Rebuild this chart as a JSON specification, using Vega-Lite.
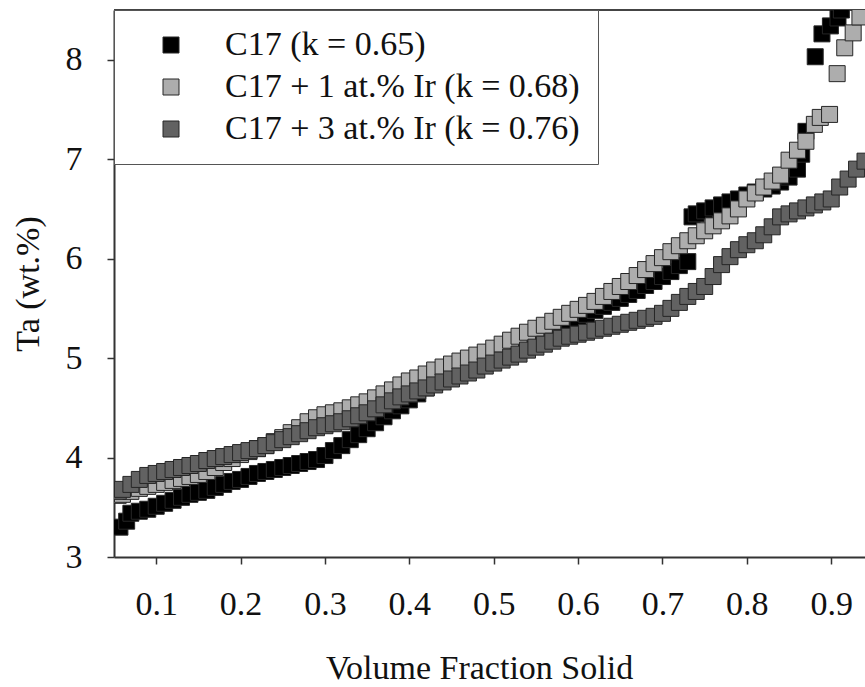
{
  "$schema": "https://vega.github.io/schema/vega-lite/v6.json",
  "width": 751,
  "height": 547,
  "autosize": "none",
  "padding": {"left": 114, "top": 10, "right": 0, "bottom": 130},
  "background": "white",
  "config": {
    "view": {"stroke": null},
    "font": "Liberation Serif",
    "axis": {
      "grid": false,
      "labelFont": "Liberation Serif",
      "titleFont": "Liberation Serif",
      "labelFontSize": 34,
      "titleFontSize": 34,
      "titleFontWeight": "normal",
      "labelColor": "#111",
      "titleColor": "#111",
      "domainColor": "#333",
      "domainWidth": 2,
      "tickColor": "#333",
      "tickWidth": 1.5,
      "tickSize": 7
    }
  },
  "layer": [
    {
      "data": {"values": [{}]},
      "mark": {"type": "rule", "color": "#444", "strokeWidth": 2},
      "encoding": {
        "y": {"datum": 8.5, "type": "quantitative", "scale": {"domain": [3, 8.5], "nice": false, "zero": false}}
      }
    },
    {
      "data": {"values": [
        {"series": "C17 (k = 0.65)", "x": 0.057, "y": 3.30},
        {"series": "C17 (k = 0.65)", "x": 0.065, "y": 3.36},
        {"series": "C17 (k = 0.65)", "x": 0.07, "y": 3.44},
        {"series": "C17 (k = 0.65)", "x": 0.08, "y": 3.46},
        {"series": "C17 (k = 0.65)", "x": 0.09, "y": 3.48},
        {"series": "C17 (k = 0.65)", "x": 0.10, "y": 3.51},
        {"series": "C17 (k = 0.65)", "x": 0.11, "y": 3.54},
        {"series": "C17 (k = 0.65)", "x": 0.12, "y": 3.57},
        {"series": "C17 (k = 0.65)", "x": 0.13, "y": 3.60},
        {"series": "C17 (k = 0.65)", "x": 0.14, "y": 3.63},
        {"series": "C17 (k = 0.65)", "x": 0.15, "y": 3.65},
        {"series": "C17 (k = 0.65)", "x": 0.16, "y": 3.67},
        {"series": "C17 (k = 0.65)", "x": 0.17, "y": 3.70},
        {"series": "C17 (k = 0.65)", "x": 0.18, "y": 3.73},
        {"series": "C17 (k = 0.65)", "x": 0.19, "y": 3.76},
        {"series": "C17 (k = 0.65)", "x": 0.20, "y": 3.78},
        {"series": "C17 (k = 0.65)", "x": 0.21, "y": 3.81},
        {"series": "C17 (k = 0.65)", "x": 0.22, "y": 3.84},
        {"series": "C17 (k = 0.65)", "x": 0.23, "y": 3.86},
        {"series": "C17 (k = 0.65)", "x": 0.24, "y": 3.88},
        {"series": "C17 (k = 0.65)", "x": 0.25, "y": 3.90},
        {"series": "C17 (k = 0.65)", "x": 0.26, "y": 3.92},
        {"series": "C17 (k = 0.65)", "x": 0.27, "y": 3.94},
        {"series": "C17 (k = 0.65)", "x": 0.28, "y": 3.96},
        {"series": "C17 (k = 0.65)", "x": 0.29, "y": 3.98},
        {"series": "C17 (k = 0.65)", "x": 0.30, "y": 4.02},
        {"series": "C17 (k = 0.65)", "x": 0.31, "y": 4.07},
        {"series": "C17 (k = 0.65)", "x": 0.32, "y": 4.12},
        {"series": "C17 (k = 0.65)", "x": 0.33, "y": 4.18},
        {"series": "C17 (k = 0.65)", "x": 0.34, "y": 4.23},
        {"series": "C17 (k = 0.65)", "x": 0.35, "y": 4.29},
        {"series": "C17 (k = 0.65)", "x": 0.36, "y": 4.35},
        {"series": "C17 (k = 0.65)", "x": 0.37, "y": 4.41},
        {"series": "C17 (k = 0.65)", "x": 0.38, "y": 4.47},
        {"series": "C17 (k = 0.65)", "x": 0.39, "y": 4.52},
        {"series": "C17 (k = 0.65)", "x": 0.40, "y": 4.58},
        {"series": "C17 (k = 0.65)", "x": 0.41, "y": 4.64},
        {"series": "C17 (k = 0.65)", "x": 0.42, "y": 4.70},
        {"series": "C17 (k = 0.65)", "x": 0.43, "y": 4.75},
        {"series": "C17 (k = 0.65)", "x": 0.44, "y": 4.80},
        {"series": "C17 (k = 0.65)", "x": 0.45, "y": 4.84},
        {"series": "C17 (k = 0.65)", "x": 0.46, "y": 4.88},
        {"series": "C17 (k = 0.65)", "x": 0.47, "y": 4.91},
        {"series": "C17 (k = 0.65)", "x": 0.48, "y": 4.94},
        {"series": "C17 (k = 0.65)", "x": 0.49, "y": 4.98},
        {"series": "C17 (k = 0.65)", "x": 0.50, "y": 5.02},
        {"series": "C17 (k = 0.65)", "x": 0.51, "y": 5.05},
        {"series": "C17 (k = 0.65)", "x": 0.52, "y": 5.09},
        {"series": "C17 (k = 0.65)", "x": 0.53, "y": 5.12},
        {"series": "C17 (k = 0.65)", "x": 0.54, "y": 5.16},
        {"series": "C17 (k = 0.65)", "x": 0.55, "y": 5.20},
        {"series": "C17 (k = 0.65)", "x": 0.56, "y": 5.24},
        {"series": "C17 (k = 0.65)", "x": 0.57, "y": 5.28},
        {"series": "C17 (k = 0.65)", "x": 0.58, "y": 5.32},
        {"series": "C17 (k = 0.65)", "x": 0.59, "y": 5.36},
        {"series": "C17 (k = 0.65)", "x": 0.60, "y": 5.40},
        {"series": "C17 (k = 0.65)", "x": 0.61, "y": 5.44},
        {"series": "C17 (k = 0.65)", "x": 0.62, "y": 5.48},
        {"series": "C17 (k = 0.65)", "x": 0.63, "y": 5.52},
        {"series": "C17 (k = 0.65)", "x": 0.64, "y": 5.56},
        {"series": "C17 (k = 0.65)", "x": 0.65, "y": 5.60},
        {"series": "C17 (k = 0.65)", "x": 0.66, "y": 5.64},
        {"series": "C17 (k = 0.65)", "x": 0.67, "y": 5.68},
        {"series": "C17 (k = 0.65)", "x": 0.68, "y": 5.73},
        {"series": "C17 (k = 0.65)", "x": 0.69, "y": 5.77},
        {"series": "C17 (k = 0.65)", "x": 0.70, "y": 5.82},
        {"series": "C17 (k = 0.65)", "x": 0.71, "y": 5.87},
        {"series": "C17 (k = 0.65)", "x": 0.72, "y": 5.93},
        {"series": "C17 (k = 0.65)", "x": 0.73, "y": 5.97},
        {"series": "C17 (k = 0.65)", "x": 0.735, "y": 6.42},
        {"series": "C17 (k = 0.65)", "x": 0.74, "y": 6.45},
        {"series": "C17 (k = 0.65)", "x": 0.75, "y": 6.48},
        {"series": "C17 (k = 0.65)", "x": 0.76, "y": 6.51},
        {"series": "C17 (k = 0.65)", "x": 0.77, "y": 6.54},
        {"series": "C17 (k = 0.65)", "x": 0.78, "y": 6.57},
        {"series": "C17 (k = 0.65)", "x": 0.79, "y": 6.60},
        {"series": "C17 (k = 0.65)", "x": 0.80, "y": 6.64},
        {"series": "C17 (k = 0.65)", "x": 0.81, "y": 6.67},
        {"series": "C17 (k = 0.65)", "x": 0.82, "y": 6.70},
        {"series": "C17 (k = 0.65)", "x": 0.83, "y": 6.73},
        {"series": "C17 (k = 0.65)", "x": 0.84, "y": 6.77},
        {"series": "C17 (k = 0.65)", "x": 0.85, "y": 6.82},
        {"series": "C17 (k = 0.65)", "x": 0.86, "y": 6.90},
        {"series": "C17 (k = 0.65)", "x": 0.865, "y": 7.05},
        {"series": "C17 (k = 0.65)", "x": 0.87, "y": 7.28},
        {"series": "C17 (k = 0.65)", "x": 0.881, "y": 8.03},
        {"series": "C17 (k = 0.65)", "x": 0.889, "y": 8.26},
        {"series": "C17 (k = 0.65)", "x": 0.899, "y": 8.34},
        {"series": "C17 (k = 0.65)", "x": 0.908, "y": 8.42},
        {"series": "C17 (k = 0.65)", "x": 0.912, "y": 8.50},

        {"series": "C17 + 1 at.% Ir (k = 0.68)", "x": 0.055, "y": 3.62},
        {"series": "C17 + 1 at.% Ir (k = 0.68)", "x": 0.06, "y": 3.63},
        {"series": "C17 + 1 at.% Ir (k = 0.68)", "x": 0.07, "y": 3.66},
        {"series": "C17 + 1 at.% Ir (k = 0.68)", "x": 0.08, "y": 3.69},
        {"series": "C17 + 1 at.% Ir (k = 0.68)", "x": 0.09, "y": 3.71},
        {"series": "C17 + 1 at.% Ir (k = 0.68)", "x": 0.10, "y": 3.73},
        {"series": "C17 + 1 at.% Ir (k = 0.68)", "x": 0.11, "y": 3.75},
        {"series": "C17 + 1 at.% Ir (k = 0.68)", "x": 0.12, "y": 3.77},
        {"series": "C17 + 1 at.% Ir (k = 0.68)", "x": 0.13, "y": 3.79},
        {"series": "C17 + 1 at.% Ir (k = 0.68)", "x": 0.14, "y": 3.81},
        {"series": "C17 + 1 at.% Ir (k = 0.68)", "x": 0.15, "y": 3.83},
        {"series": "C17 + 1 at.% Ir (k = 0.68)", "x": 0.16, "y": 3.86},
        {"series": "C17 + 1 at.% Ir (k = 0.68)", "x": 0.17, "y": 3.90},
        {"series": "C17 + 1 at.% Ir (k = 0.68)", "x": 0.18, "y": 3.95},
        {"series": "C17 + 1 at.% Ir (k = 0.68)", "x": 0.19, "y": 3.99},
        {"series": "C17 + 1 at.% Ir (k = 0.68)", "x": 0.20, "y": 4.03},
        {"series": "C17 + 1 at.% Ir (k = 0.68)", "x": 0.21, "y": 4.06},
        {"series": "C17 + 1 at.% Ir (k = 0.68)", "x": 0.22, "y": 4.09},
        {"series": "C17 + 1 at.% Ir (k = 0.68)", "x": 0.23, "y": 4.12},
        {"series": "C17 + 1 at.% Ir (k = 0.68)", "x": 0.24, "y": 4.16},
        {"series": "C17 + 1 at.% Ir (k = 0.68)", "x": 0.25, "y": 4.20},
        {"series": "C17 + 1 at.% Ir (k = 0.68)", "x": 0.26, "y": 4.25},
        {"series": "C17 + 1 at.% Ir (k = 0.68)", "x": 0.27, "y": 4.30},
        {"series": "C17 + 1 at.% Ir (k = 0.68)", "x": 0.28, "y": 4.36},
        {"series": "C17 + 1 at.% Ir (k = 0.68)", "x": 0.29, "y": 4.40},
        {"series": "C17 + 1 at.% Ir (k = 0.68)", "x": 0.30, "y": 4.43},
        {"series": "C17 + 1 at.% Ir (k = 0.68)", "x": 0.31, "y": 4.45},
        {"series": "C17 + 1 at.% Ir (k = 0.68)", "x": 0.32, "y": 4.47},
        {"series": "C17 + 1 at.% Ir (k = 0.68)", "x": 0.33, "y": 4.50},
        {"series": "C17 + 1 at.% Ir (k = 0.68)", "x": 0.34, "y": 4.53},
        {"series": "C17 + 1 at.% Ir (k = 0.68)", "x": 0.35, "y": 4.56},
        {"series": "C17 + 1 at.% Ir (k = 0.68)", "x": 0.36, "y": 4.60},
        {"series": "C17 + 1 at.% Ir (k = 0.68)", "x": 0.37, "y": 4.64},
        {"series": "C17 + 1 at.% Ir (k = 0.68)", "x": 0.38, "y": 4.68},
        {"series": "C17 + 1 at.% Ir (k = 0.68)", "x": 0.39, "y": 4.73},
        {"series": "C17 + 1 at.% Ir (k = 0.68)", "x": 0.40, "y": 4.77},
        {"series": "C17 + 1 at.% Ir (k = 0.68)", "x": 0.41, "y": 4.80},
        {"series": "C17 + 1 at.% Ir (k = 0.68)", "x": 0.42, "y": 4.84},
        {"series": "C17 + 1 at.% Ir (k = 0.68)", "x": 0.43, "y": 4.88},
        {"series": "C17 + 1 at.% Ir (k = 0.68)", "x": 0.44, "y": 4.91},
        {"series": "C17 + 1 at.% Ir (k = 0.68)", "x": 0.45, "y": 4.94},
        {"series": "C17 + 1 at.% Ir (k = 0.68)", "x": 0.46, "y": 4.97},
        {"series": "C17 + 1 at.% Ir (k = 0.68)", "x": 0.47, "y": 5.00},
        {"series": "C17 + 1 at.% Ir (k = 0.68)", "x": 0.48, "y": 5.03},
        {"series": "C17 + 1 at.% Ir (k = 0.68)", "x": 0.49, "y": 5.06},
        {"series": "C17 + 1 at.% Ir (k = 0.68)", "x": 0.50, "y": 5.10},
        {"series": "C17 + 1 at.% Ir (k = 0.68)", "x": 0.51, "y": 5.14},
        {"series": "C17 + 1 at.% Ir (k = 0.68)", "x": 0.52, "y": 5.18},
        {"series": "C17 + 1 at.% Ir (k = 0.68)", "x": 0.53, "y": 5.22},
        {"series": "C17 + 1 at.% Ir (k = 0.68)", "x": 0.54, "y": 5.26},
        {"series": "C17 + 1 at.% Ir (k = 0.68)", "x": 0.55, "y": 5.30},
        {"series": "C17 + 1 at.% Ir (k = 0.68)", "x": 0.56, "y": 5.33},
        {"series": "C17 + 1 at.% Ir (k = 0.68)", "x": 0.57, "y": 5.37},
        {"series": "C17 + 1 at.% Ir (k = 0.68)", "x": 0.58, "y": 5.41},
        {"series": "C17 + 1 at.% Ir (k = 0.68)", "x": 0.59, "y": 5.45},
        {"series": "C17 + 1 at.% Ir (k = 0.68)", "x": 0.60, "y": 5.49},
        {"series": "C17 + 1 at.% Ir (k = 0.68)", "x": 0.61, "y": 5.53},
        {"series": "C17 + 1 at.% Ir (k = 0.68)", "x": 0.62, "y": 5.57},
        {"series": "C17 + 1 at.% Ir (k = 0.68)", "x": 0.63, "y": 5.62},
        {"series": "C17 + 1 at.% Ir (k = 0.68)", "x": 0.64, "y": 5.67},
        {"series": "C17 + 1 at.% Ir (k = 0.68)", "x": 0.65, "y": 5.72},
        {"series": "C17 + 1 at.% Ir (k = 0.68)", "x": 0.66, "y": 5.77},
        {"series": "C17 + 1 at.% Ir (k = 0.68)", "x": 0.67, "y": 5.83},
        {"series": "C17 + 1 at.% Ir (k = 0.68)", "x": 0.68, "y": 5.89},
        {"series": "C17 + 1 at.% Ir (k = 0.68)", "x": 0.69, "y": 5.95},
        {"series": "C17 + 1 at.% Ir (k = 0.68)", "x": 0.70, "y": 6.01},
        {"series": "C17 + 1 at.% Ir (k = 0.68)", "x": 0.71, "y": 6.07},
        {"series": "C17 + 1 at.% Ir (k = 0.68)", "x": 0.72, "y": 6.13},
        {"series": "C17 + 1 at.% Ir (k = 0.68)", "x": 0.73, "y": 6.18},
        {"series": "C17 + 1 at.% Ir (k = 0.68)", "x": 0.74, "y": 6.23},
        {"series": "C17 + 1 at.% Ir (k = 0.68)", "x": 0.75, "y": 6.28},
        {"series": "C17 + 1 at.% Ir (k = 0.68)", "x": 0.76, "y": 6.33},
        {"series": "C17 + 1 at.% Ir (k = 0.68)", "x": 0.77, "y": 6.38},
        {"series": "C17 + 1 at.% Ir (k = 0.68)", "x": 0.78, "y": 6.43},
        {"series": "C17 + 1 at.% Ir (k = 0.68)", "x": 0.79, "y": 6.50},
        {"series": "C17 + 1 at.% Ir (k = 0.68)", "x": 0.80, "y": 6.60},
        {"series": "C17 + 1 at.% Ir (k = 0.68)", "x": 0.81, "y": 6.66},
        {"series": "C17 + 1 at.% Ir (k = 0.68)", "x": 0.82, "y": 6.72},
        {"series": "C17 + 1 at.% Ir (k = 0.68)", "x": 0.83, "y": 6.78},
        {"series": "C17 + 1 at.% Ir (k = 0.68)", "x": 0.84, "y": 6.84},
        {"series": "C17 + 1 at.% Ir (k = 0.68)", "x": 0.85, "y": 6.99},
        {"series": "C17 + 1 at.% Ir (k = 0.68)", "x": 0.86, "y": 7.09},
        {"series": "C17 + 1 at.% Ir (k = 0.68)", "x": 0.87, "y": 7.18},
        {"series": "C17 + 1 at.% Ir (k = 0.68)", "x": 0.88, "y": 7.35},
        {"series": "C17 + 1 at.% Ir (k = 0.68)", "x": 0.887, "y": 7.42},
        {"series": "C17 + 1 at.% Ir (k = 0.68)", "x": 0.898, "y": 7.45},
        {"series": "C17 + 1 at.% Ir (k = 0.68)", "x": 0.907, "y": 7.86},
        {"series": "C17 + 1 at.% Ir (k = 0.68)", "x": 0.916, "y": 8.12},
        {"series": "C17 + 1 at.% Ir (k = 0.68)", "x": 0.926, "y": 8.27},
        {"series": "C17 + 1 at.% Ir (k = 0.68)", "x": 0.934, "y": 8.43},

        {"series": "C17 + 3 at.% Ir (k = 0.76)", "x": 0.055, "y": 3.66},
        {"series": "C17 + 3 at.% Ir (k = 0.76)", "x": 0.06, "y": 3.68},
        {"series": "C17 + 3 at.% Ir (k = 0.76)", "x": 0.07, "y": 3.73},
        {"series": "C17 + 3 at.% Ir (k = 0.76)", "x": 0.08, "y": 3.78},
        {"series": "C17 + 3 at.% Ir (k = 0.76)", "x": 0.09, "y": 3.82},
        {"series": "C17 + 3 at.% Ir (k = 0.76)", "x": 0.10, "y": 3.84},
        {"series": "C17 + 3 at.% Ir (k = 0.76)", "x": 0.11, "y": 3.86},
        {"series": "C17 + 3 at.% Ir (k = 0.76)", "x": 0.12, "y": 3.88},
        {"series": "C17 + 3 at.% Ir (k = 0.76)", "x": 0.13, "y": 3.90},
        {"series": "C17 + 3 at.% Ir (k = 0.76)", "x": 0.14, "y": 3.92},
        {"series": "C17 + 3 at.% Ir (k = 0.76)", "x": 0.15, "y": 3.94},
        {"series": "C17 + 3 at.% Ir (k = 0.76)", "x": 0.16, "y": 3.97},
        {"series": "C17 + 3 at.% Ir (k = 0.76)", "x": 0.17, "y": 3.99},
        {"series": "C17 + 3 at.% Ir (k = 0.76)", "x": 0.18, "y": 4.01},
        {"series": "C17 + 3 at.% Ir (k = 0.76)", "x": 0.19, "y": 4.03},
        {"series": "C17 + 3 at.% Ir (k = 0.76)", "x": 0.20, "y": 4.05},
        {"series": "C17 + 3 at.% Ir (k = 0.76)", "x": 0.21, "y": 4.07},
        {"series": "C17 + 3 at.% Ir (k = 0.76)", "x": 0.22, "y": 4.09},
        {"series": "C17 + 3 at.% Ir (k = 0.76)", "x": 0.23, "y": 4.12},
        {"series": "C17 + 3 at.% Ir (k = 0.76)", "x": 0.24, "y": 4.15},
        {"series": "C17 + 3 at.% Ir (k = 0.76)", "x": 0.25, "y": 4.18},
        {"series": "C17 + 3 at.% Ir (k = 0.76)", "x": 0.26, "y": 4.21},
        {"series": "C17 + 3 at.% Ir (k = 0.76)", "x": 0.27, "y": 4.24},
        {"series": "C17 + 3 at.% Ir (k = 0.76)", "x": 0.28, "y": 4.27},
        {"series": "C17 + 3 at.% Ir (k = 0.76)", "x": 0.29, "y": 4.30},
        {"series": "C17 + 3 at.% Ir (k = 0.76)", "x": 0.30, "y": 4.32},
        {"series": "C17 + 3 at.% Ir (k = 0.76)", "x": 0.31, "y": 4.34},
        {"series": "C17 + 3 at.% Ir (k = 0.76)", "x": 0.32, "y": 4.36},
        {"series": "C17 + 3 at.% Ir (k = 0.76)", "x": 0.33, "y": 4.39},
        {"series": "C17 + 3 at.% Ir (k = 0.76)", "x": 0.34, "y": 4.42},
        {"series": "C17 + 3 at.% Ir (k = 0.76)", "x": 0.35, "y": 4.45},
        {"series": "C17 + 3 at.% Ir (k = 0.76)", "x": 0.36, "y": 4.49},
        {"series": "C17 + 3 at.% Ir (k = 0.76)", "x": 0.37, "y": 4.53},
        {"series": "C17 + 3 at.% Ir (k = 0.76)", "x": 0.38, "y": 4.57},
        {"series": "C17 + 3 at.% Ir (k = 0.76)", "x": 0.39, "y": 4.61},
        {"series": "C17 + 3 at.% Ir (k = 0.76)", "x": 0.40, "y": 4.64},
        {"series": "C17 + 3 at.% Ir (k = 0.76)", "x": 0.41, "y": 4.67},
        {"series": "C17 + 3 at.% Ir (k = 0.76)", "x": 0.42, "y": 4.70},
        {"series": "C17 + 3 at.% Ir (k = 0.76)", "x": 0.43, "y": 4.73},
        {"series": "C17 + 3 at.% Ir (k = 0.76)", "x": 0.44, "y": 4.76},
        {"series": "C17 + 3 at.% Ir (k = 0.76)", "x": 0.45, "y": 4.79},
        {"series": "C17 + 3 at.% Ir (k = 0.76)", "x": 0.46, "y": 4.82},
        {"series": "C17 + 3 at.% Ir (k = 0.76)", "x": 0.47, "y": 4.85},
        {"series": "C17 + 3 at.% Ir (k = 0.76)", "x": 0.48, "y": 4.88},
        {"series": "C17 + 3 at.% Ir (k = 0.76)", "x": 0.49, "y": 4.92},
        {"series": "C17 + 3 at.% Ir (k = 0.76)", "x": 0.50, "y": 4.95},
        {"series": "C17 + 3 at.% Ir (k = 0.76)", "x": 0.51, "y": 4.98},
        {"series": "C17 + 3 at.% Ir (k = 0.76)", "x": 0.52, "y": 5.01},
        {"series": "C17 + 3 at.% Ir (k = 0.76)", "x": 0.53, "y": 5.04},
        {"series": "C17 + 3 at.% Ir (k = 0.76)", "x": 0.54, "y": 5.08},
        {"series": "C17 + 3 at.% Ir (k = 0.76)", "x": 0.55, "y": 5.11},
        {"series": "C17 + 3 at.% Ir (k = 0.76)", "x": 0.56, "y": 5.14},
        {"series": "C17 + 3 at.% Ir (k = 0.76)", "x": 0.57, "y": 5.17},
        {"series": "C17 + 3 at.% Ir (k = 0.76)", "x": 0.58, "y": 5.20},
        {"series": "C17 + 3 at.% Ir (k = 0.76)", "x": 0.59, "y": 5.22},
        {"series": "C17 + 3 at.% Ir (k = 0.76)", "x": 0.60, "y": 5.24},
        {"series": "C17 + 3 at.% Ir (k = 0.76)", "x": 0.61, "y": 5.26},
        {"series": "C17 + 3 at.% Ir (k = 0.76)", "x": 0.62, "y": 5.28},
        {"series": "C17 + 3 at.% Ir (k = 0.76)", "x": 0.63, "y": 5.30},
        {"series": "C17 + 3 at.% Ir (k = 0.76)", "x": 0.64, "y": 5.32},
        {"series": "C17 + 3 at.% Ir (k = 0.76)", "x": 0.65, "y": 5.34},
        {"series": "C17 + 3 at.% Ir (k = 0.76)", "x": 0.66, "y": 5.36},
        {"series": "C17 + 3 at.% Ir (k = 0.76)", "x": 0.67, "y": 5.38},
        {"series": "C17 + 3 at.% Ir (k = 0.76)", "x": 0.68, "y": 5.40},
        {"series": "C17 + 3 at.% Ir (k = 0.76)", "x": 0.69, "y": 5.42},
        {"series": "C17 + 3 at.% Ir (k = 0.76)", "x": 0.70, "y": 5.45},
        {"series": "C17 + 3 at.% Ir (k = 0.76)", "x": 0.71, "y": 5.50},
        {"series": "C17 + 3 at.% Ir (k = 0.76)", "x": 0.72, "y": 5.56},
        {"series": "C17 + 3 at.% Ir (k = 0.76)", "x": 0.73, "y": 5.62},
        {"series": "C17 + 3 at.% Ir (k = 0.76)", "x": 0.74, "y": 5.67},
        {"series": "C17 + 3 at.% Ir (k = 0.76)", "x": 0.75, "y": 5.72},
        {"series": "C17 + 3 at.% Ir (k = 0.76)", "x": 0.76, "y": 5.82},
        {"series": "C17 + 3 at.% Ir (k = 0.76)", "x": 0.77, "y": 5.94},
        {"series": "C17 + 3 at.% Ir (k = 0.76)", "x": 0.78, "y": 6.02},
        {"series": "C17 + 3 at.% Ir (k = 0.76)", "x": 0.79, "y": 6.09},
        {"series": "C17 + 3 at.% Ir (k = 0.76)", "x": 0.80, "y": 6.14},
        {"series": "C17 + 3 at.% Ir (k = 0.76)", "x": 0.81, "y": 6.18},
        {"series": "C17 + 3 at.% Ir (k = 0.76)", "x": 0.82, "y": 6.24},
        {"series": "C17 + 3 at.% Ir (k = 0.76)", "x": 0.83, "y": 6.32},
        {"series": "C17 + 3 at.% Ir (k = 0.76)", "x": 0.84, "y": 6.42},
        {"series": "C17 + 3 at.% Ir (k = 0.76)", "x": 0.85, "y": 6.45},
        {"series": "C17 + 3 at.% Ir (k = 0.76)", "x": 0.86, "y": 6.48},
        {"series": "C17 + 3 at.% Ir (k = 0.76)", "x": 0.87, "y": 6.51},
        {"series": "C17 + 3 at.% Ir (k = 0.76)", "x": 0.88, "y": 6.54},
        {"series": "C17 + 3 at.% Ir (k = 0.76)", "x": 0.89, "y": 6.57},
        {"series": "C17 + 3 at.% Ir (k = 0.76)", "x": 0.90, "y": 6.60},
        {"series": "C17 + 3 at.% Ir (k = 0.76)", "x": 0.91, "y": 6.72},
        {"series": "C17 + 3 at.% Ir (k = 0.76)", "x": 0.92, "y": 6.80},
        {"series": "C17 + 3 at.% Ir (k = 0.76)", "x": 0.93, "y": 6.90},
        {"series": "C17 + 3 at.% Ir (k = 0.76)", "x": 0.94, "y": 6.98}
      ]},
      "mark": {"type": "square", "filled": true, "size": 256, "stroke": "#262626", "strokeWidth": 1, "opacity": 1, "clip": true},
      "encoding": {
        "x": {
          "field": "x", "type": "quantitative",
          "scale": {"domain": [0.05, 0.94], "nice": false, "zero": false},
          "axis": {"title": "Volume Fraction Solid", "values": [0.1, 0.2, 0.3, 0.4, 0.5, 0.6, 0.7, 0.8, 0.9], "format": ".1f", "labelPadding": 23, "titlePadding": 30, "titleX": 365}
        },
        "y": {
          "field": "y", "type": "quantitative",
          "scale": {"domain": [3, 8.5], "nice": false, "zero": false},
          "axis": {"title": "Ta (wt.%)", "values": [3, 4, 5, 6, 7, 8], "format": "d", "labelPadding": 25, "titlePadding": 20}
        },
        "color": {
          "field": "series", "type": "nominal",
          "scale": {
            "domain": ["C17 (k = 0.65)", "C17 + 1 at.% Ir (k = 0.68)", "C17 + 3 at.% Ir (k = 0.76)"],
            "range": ["#000000", "#adadad", "#626262"]
          },
          "legend": {
            "orient": "none", "legendX": 0, "legendY": 0,
            "title": null,
            "padding": 18,
            "strokeColor": "#555",
            "fillColor": "white",
            "symbolType": "square",
            "symbolSize": 256,
            "symbolStrokeColor": "#262626",
            "symbolStrokeWidth": 1,
            "symbolOffset": 22,
            "labelFont": "Liberation Serif",
            "labelFontSize": 34,
            "labelColor": "#111",
            "labelOffset": 37,
            "labelLimit": 600,
            "rowPadding": 8
          }
        },
        "order": {"field": "series", "type": "nominal", "sort": "ascending"}
      }
    }
  ]
}
